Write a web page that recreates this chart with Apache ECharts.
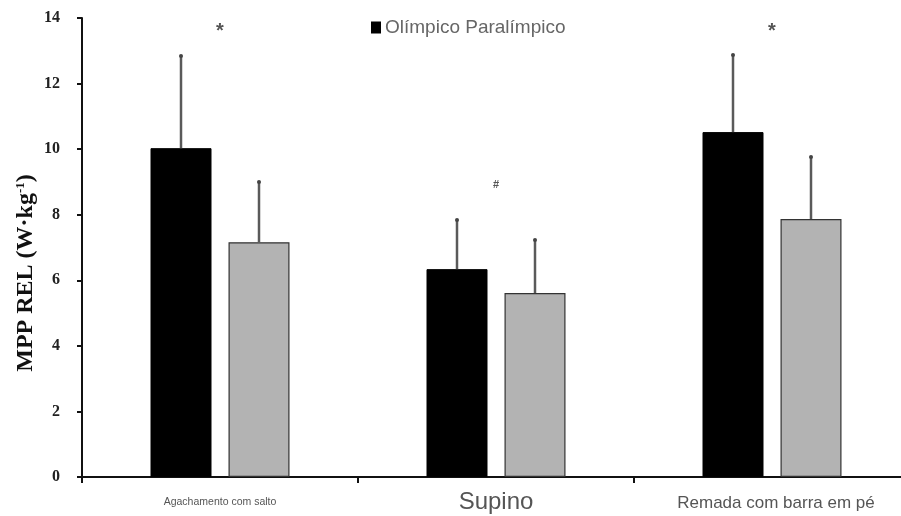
<!DOCTYPE html>
<html>
<head>
<meta charset="utf-8">
<script src="https://cdn.jsdelivr.net/npm/echarts@6/dist/echarts.min.js"></script>
<style>html,body{margin:0;padding:0;background:#fff}#c{width:901px;height:516px}</style>
</head>
<body>
<div id="c"></div>
<script>
var categories = ['Agachamento com salto', 'Supino', 'Remada com barra em pé'];
var olimpico = [10.03, 6.34, 10.52];
var olimpicoSD = [2.81, 1.50, 2.35];
var paralimpico = [7.16, 5.61, 7.87];
var paralimpicoSD = [1.84, 1.62, 1.89];
var annotations = [
  { cat: 0, y: 13.6, text: '*' },
  { cat: 1, y: 8.9, text: '#' },
  { cat: 2, y: 13.6, text: '*' }
];
var yTicks = [0, 2, 4, 6, 8, 10, 12, 14];

var BAR_W = 61, BAR_GAP = 17;
function errSeries(name, vals, sds, side) {
  return {
    type: 'custom', name: name + ' DP', z: 5,
    data: vals.map(function (v, i) { return [i, v, v + sds[i]]; }),
    renderItem: function (params, api) {
      var i = api.value(0);
      var p1 = api.coord([i, api.value(1)]);
      var p2 = api.coord([i, api.value(2)]);
      var x = p1[0] + side * (BAR_W + BAR_GAP) / 2;
      return {
        type: 'group', children: [
          { type: 'line', shape: { x1: x, y1: p1[1], x2: x, y2: p2[1] }, style: { stroke: '#5a5a5a', lineWidth: 2.5 } },
          { type: 'circle', shape: { cx: x, cy: p2[1], r: 2 }, style: { fill: '#444' } }
        ]
      };
    }
  };
}

var chart = echarts.init(document.getElementById('c'));
chart.setOption({
  animation: false,
  grid: { left: 82, right: -9, top: 18, bottom: 39, outerBoundsMode: 'none', containLabel: false },
  legend: {
    data: ['Olímpico'], top: 13, left: 366, itemWidth: 8, itemHeight: 10, itemGap: 11,
    icon: 'rect',
    formatter: function () { return 'Olímpico Paralímpico'; },
    textStyle: { fontFamily: 'Liberation Sans, Arial', fontSize: 19, color: '#666' }
  },
  graphic: [{
    type: 'text', x: 14, y: 273, rotation: Math.PI / 2,
    style: {
      text: 'MPP REL (W·kg{s|-1})', align: 'center', verticalAlign: 'top',
      fontFamily: 'Liberation Serif, Times New Roman', fontWeight: 'bold', fontSize: 24, fill: '#111',
      rich: { s: { fontFamily: 'Liberation Serif', fontWeight: 'bold', fontSize: 13, fill: '#111', verticalAlign: 'top', padding: [0, 0, 10, 0] } }
    }
  }],
  xAxis: {
    type: 'category', data: categories,
    axisLine: { lineStyle: { color: '#111', width: 2 } },
    axisTick: { show: true, length: 6, lineStyle: { color: '#111', width: 2 } },
    axisLabel: {
      margin: 0,
      formatter: function (v, i) {
        return i === 0 ? '{a|' + v + '}' : (i === 1 ? '{b|' + v + '}' : '{c|' + v + '}');
      },
      rich: {
        a: { fontFamily: 'Liberation Sans, Arial', fontSize: 10.5, color: '#555', padding: [20, 0, 0, 0] },
        b: { fontFamily: 'Liberation Sans, Arial', fontSize: 24, color: '#555', padding: [13, 0, 0, 0] },
        c: { fontFamily: 'Liberation Sans, Arial', fontSize: 17, color: '#555', padding: [18, 0, 0, 8] }
      }
    }
  },
  yAxis: {
    type: 'value', min: 0, max: 14, interval: 2,
    splitLine: { show: false },
    axisLine: { show: true, lineStyle: { color: '#111', width: 2 } },
    axisTick: { show: true, length: 5, lineStyle: { color: '#111', width: 2 } },
    axisLabel: {
      margin: 22,
      formatter: function (v) { return yTicks.indexOf(v) >= 0 ? String(v) : ''; },
      fontFamily: 'Liberation Serif, Times New Roman', fontWeight: 'bold', fontSize: 16, color: '#222'
    }
  },
  series: [
    { name: 'Olímpico', type: 'bar', data: olimpico, barWidth: BAR_W, barGap: (BAR_GAP / BAR_W * 100) + '%',
      itemStyle: { color: '#000', borderColor: '#000', borderWidth: 1 } },
    { name: 'Paralímpico', type: 'bar', data: paralimpico, barWidth: BAR_W,
      itemStyle: { color: '#b3b3b3', borderColor: '#333', borderWidth: 1.2 } },
    errSeries('Olímpico', olimpico, olimpicoSD, -1),
    errSeries('Paralímpico', paralimpico, paralimpicoSD, 1),
    {
      type: 'custom', name: 'sig', z: 6,
      data: annotations.map(function (a) { return [a.cat, a.y, a.text]; }),
      renderItem: function (params, api) {
        var p = api.coord([api.value(0), api.value(1)]);
        var t = annotations[params.dataIndex].text;
        return { type: 'text', x: p[0], y: p[1], style: {
          text: t, align: 'center', verticalAlign: 'middle',
          fontFamily: 'Liberation Sans, Arial', fontSize: t === '*' ? 20 : 11, fontWeight: 'bold', fill: '#555' } };
      }
    }
  ]
});
</script>
</body>
</html>
